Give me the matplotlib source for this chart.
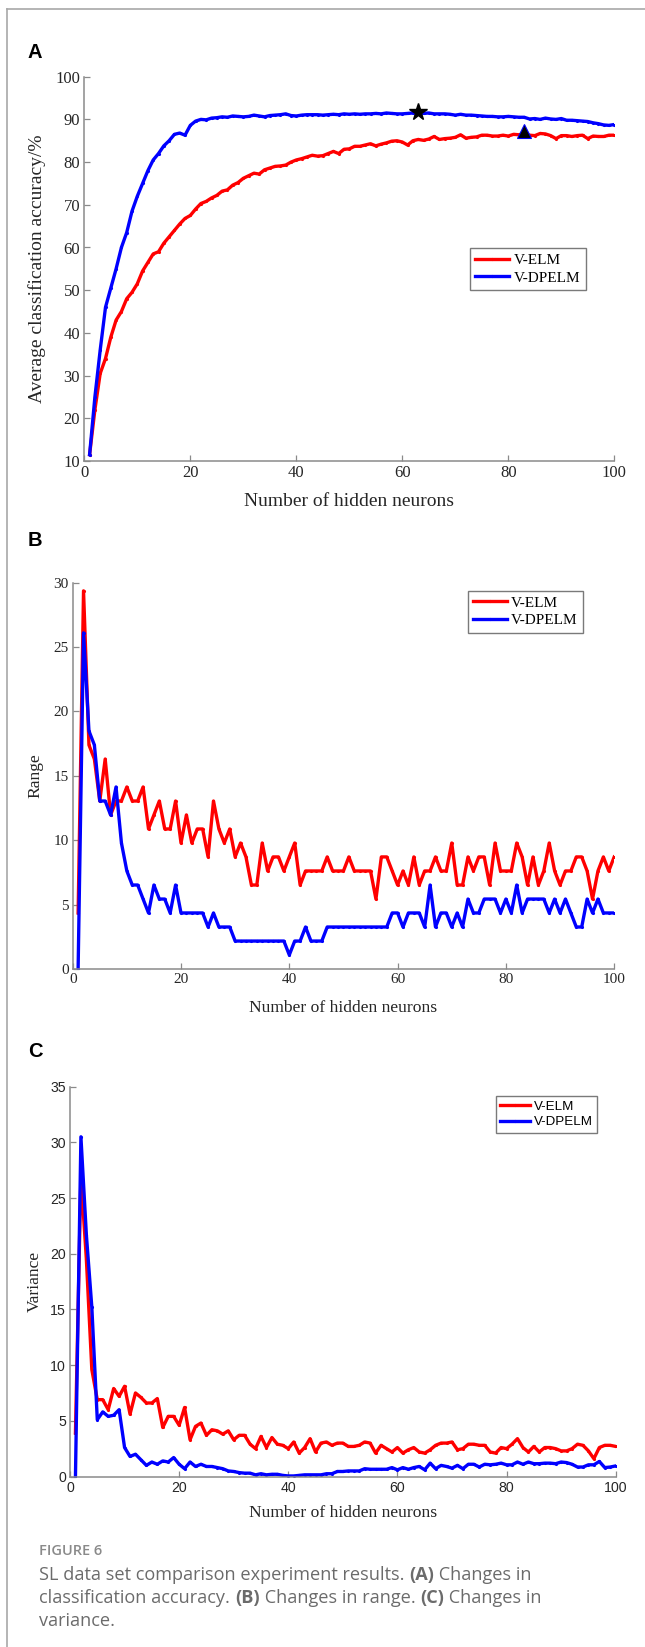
import matplotlib
matplotlib.use("Agg")
import matplotlib.pyplot as plt
from matplotlib.lines import Line2D
import numpy as np

# hidden neurons 1..100
neurons = list(range(1, 101))

acc_elm = [11.5, 22, 30.5, 34, 39, 43, 45, 48, 49.5, 51.5,
           54.5, 56.5, 58.5, 59, 61, 62.5, 64, 65.5, 66.8, 67.5,
           69, 70.3, 70.8, 71.6, 72.2, 73.2, 73.5, 74.6, 75.2, 76.2,
           76.8, 77.4, 77.2, 78.2, 78.6, 79.0, 79.1, 79.3, 80.0, 80.5,
           80.8, 81.2, 81.6, 81.4, 81.5, 82.0, 82.5, 82.0, 83.0, 83.1,
           83.7, 83.7, 84.0, 84.3, 83.8, 84.2, 84.5, 84.9, 85.0, 84.7,
           84.0, 85.0, 85.3, 85.1, 85.4, 86.0, 85.3, 85.5, 85.6, 85.8,
           86.4, 85.6, 85.8, 85.9, 86.3, 86.3, 86.1, 86.1, 86.3, 86.1,
           86.5, 86.4, 86.6, 86.3, 86.2, 86.7, 86.6, 86.2, 85.5, 86.2,
           86.2, 86.0, 86.2, 86.3, 85.5, 86.1, 86.0, 86.0, 86.3, 86.3]

acc_dpelm = [11.5, 25, 36, 46, 50.5, 55, 60, 63.5, 68.5, 72,
             75, 78, 80.5, 82, 83.8, 85, 86.5, 86.8, 86.3, 88.6,
             89.6, 90.0, 89.9, 90.3, 90.4, 90.6, 90.5, 90.8, 90.7, 90.6,
             90.7, 91.0, 90.8, 90.6, 90.9, 91.0, 91.1, 91.3, 90.9, 90.8,
             91.0, 91.1, 91.1, 91.1, 91.0, 91.1, 91.2, 91.1, 91.3, 91.2,
             91.3, 91.2, 91.3, 91.3, 91.4, 91.3, 91.5, 91.4, 91.3, 91.3,
             91.4, 91.5, 91.6, 91.4, 91.5, 91.3, 91.3, 91.3, 91.2, 91.0,
             91.2, 91.0, 91.0, 90.9, 90.8, 90.7, 90.7, 90.6, 90.6, 90.7,
             90.6, 90.5, 90.5, 90.1, 90.2, 90.0, 90.3, 90.1, 90.0, 90.2,
             89.8, 89.8, 89.7, 89.6, 89.5, 89.2, 89.0, 88.7, 88.6, 88.8]

best_dpelm = (63, 91.8)   # star
best_elm = (83, 87.2)     # triangle

range_elm = [4.35, 29.35, 17.39, 16.30, 13.04, 16.30, 11.96, 13.04, 13.04, 14.13,
             13.04, 13.04, 14.13, 10.87, 11.96, 13.04, 10.87, 10.87, 13.04, 9.78,
             11.96, 9.78, 10.87, 10.87, 8.70, 13.04, 10.87, 9.78, 10.87, 8.70,
             9.78, 8.70, 6.52, 6.52, 9.78, 7.61, 8.70, 8.70, 7.61, 8.70,
             9.78, 6.52, 7.61, 7.61, 7.61, 7.61, 8.70, 7.61, 7.61, 7.61,
             8.70, 7.61, 7.61, 7.61, 7.61, 5.43, 8.70, 8.70, 7.61, 6.52,
             7.61, 6.52, 8.70, 6.52, 7.61, 7.61, 8.70, 7.61, 7.61, 9.78,
             6.52, 6.52, 8.70, 7.61, 8.70, 8.70, 6.52, 9.78, 7.61, 7.61,
             7.61, 9.78, 8.70, 6.52, 8.70, 6.52, 7.61, 9.78, 7.61, 6.52,
             7.61, 7.61, 8.70, 8.70, 7.61, 5.43, 7.61, 8.70, 7.61, 8.70]

range_dpelm = [0, 26.09, 18.48, 17.39, 13.04, 13.04, 11.96, 14.13, 9.78, 7.61,
               6.52, 6.52, 5.43, 4.35, 6.52, 5.43, 5.43, 4.35, 6.52, 4.35,
               4.35, 4.35, 4.35, 4.35, 3.26, 4.35, 3.26, 3.26, 3.26, 2.17,
               2.17, 2.17, 2.17, 2.17, 2.17, 2.17, 2.17, 2.17, 2.17, 1.09,
               2.17, 2.17, 3.26, 2.17, 2.17, 2.17, 3.26, 3.26, 3.26, 3.26,
               3.26, 3.26, 3.26, 3.26, 3.26, 3.26, 3.26, 3.26, 4.35, 4.35,
               3.26, 4.35, 4.35, 4.35, 3.26, 6.52, 3.26, 4.35, 4.35, 3.26,
               4.35, 3.26, 5.43, 4.35, 4.35, 5.43, 5.43, 5.43, 4.35, 5.43,
               4.35, 6.52, 4.35, 5.43, 5.43, 5.43, 5.43, 4.35, 5.43, 4.35,
               5.43, 4.35, 3.26, 3.26, 5.43, 4.35, 5.43, 4.35, 4.35, 4.35]

var_elm = [3.9, 27.0, 19.5, 9.6, 6.9, 6.9, 6.0, 7.9, 7.2, 8.1,
           5.6, 7.5, 7.1, 6.6, 6.6, 7.0, 4.4, 5.4, 5.4, 4.6,
           6.2, 3.3, 4.5, 4.8, 3.7, 4.2, 4.1, 3.8, 4.1, 3.3,
           3.7, 3.7, 2.9, 2.5, 3.6, 2.6, 3.5, 2.9, 2.8, 2.5,
           3.1, 2.1, 2.6, 3.4, 2.2, 3.0, 3.1, 2.8, 3.0, 3.0,
           2.7, 2.7, 2.8, 3.1, 3.0, 2.1, 2.8, 2.5, 2.2, 2.6,
           2.1, 2.4, 2.6, 2.2, 2.1, 2.4, 2.8, 3.0, 3.0, 3.1,
           2.4, 2.5, 2.9, 2.9, 2.8, 2.8, 2.2, 2.1, 2.6, 2.5,
           2.9, 3.4, 2.6, 2.2, 2.7, 2.2, 2.6, 2.6, 2.5, 2.3,
           2.3, 2.5, 2.9, 2.8, 2.3, 1.6, 2.6, 2.8, 2.8, 2.7]

var_dpelm = [0, 30.5, 21.7, 15.2, 5.1, 5.8, 5.4, 5.5, 6.0, 2.6,
             1.8, 2.0, 1.5, 1.0, 1.3, 1.1, 1.4, 1.3, 1.7, 1.1,
             0.7, 1.3, 0.9, 1.1, 0.9, 0.9, 0.8, 0.7, 0.5, 0.45,
             0.35, 0.3, 0.3, 0.15, 0.25, 0.15, 0.2, 0.2, 0.1, 0.05,
             0.05, 0.1, 0.15, 0.15, 0.15, 0.15, 0.25, 0.25, 0.45, 0.45,
             0.5, 0.5, 0.5, 0.7, 0.65, 0.65, 0.65, 0.65, 0.8, 0.6,
             0.8, 0.65, 0.8, 0.9, 0.6, 1.2, 0.7, 1.0, 0.9, 0.75,
             1.0, 0.7, 1.1, 1.1, 0.85, 1.1, 1.05, 1.1, 1.2, 1.05,
             1.05, 1.3, 1.1, 1.3, 1.15, 1.15, 1.2, 1.2, 1.15, 1.3,
             1.25, 1.1, 0.85, 0.85, 1.05, 1.05, 1.35, 0.8, 0.85, 0.95]

W, H = 645, 1647
SERIF = ["Liberation Serif", "DejaVu Serif"]
SANS = ["Liberation Sans", "DejaVu Sans"]
plt.rcParams["font.family"] = SERIF
fig = plt.figure(figsize=(W / 100, H / 100), dpi=100)

axis_gray = "#8a8a8a"
tick_col = "#262626"


def fig_rect(x0, y0, x1, y1):
    # pixel box (top-left origin) -> figure fraction rect
    return [x0 / W, 1 - y1 / H, (x1 - x0) / W, (y1 - y0) / H]


def style_axes(ax, tsize):
    for s in ["top", "right"]:
        ax.spines[s].set_visible(False)
    for s in ["left", "bottom"]:
        ax.spines[s].set_color(axis_gray)
        ax.spines[s].set_linewidth(1.1)
    ax.tick_params(direction="in", length=4.5, width=0.9, color=axis_gray,
                   labelcolor=tick_col, labelsize=tsize, pad=3)


def draw_lines(ax, y1, y2):
    ax.plot(neurons, y1, color="#ff0000", lw=2.4, marker=".", ms=2.5, label="V-ELM")
    ax.plot(neurons, y2, color="#0000ff", lw=2.4, marker=".", ms=2.5, label="V-DPELM")


def add_legend(ax, fam, size, x0, y0):
    leg = ax.legend(loc="upper left", bbox_to_anchor=(x0 / W, 1 - y0 / H),
                    bbox_transform=fig.transFigure, borderaxespad=0,
                    prop={"family": fam, "size": size}, fancybox=False,
                    framealpha=1, edgecolor="#7a7a7a", handlelength=2.2,
                    handletextpad=0.3, borderpad=0.35, labelspacing=0.25)
    leg.get_frame().set_linewidth(1.0)


# ---- panel A
axA = fig.add_axes(fig_rect(84.3, 76.7, 614.3, 461))
draw_lines(axA, acc_elm, acc_dpelm)
axA.plot(*best_dpelm, marker="*", ms=13, color="black", zorder=5)
axA.plot(*best_elm, marker="^", ms=10, mfc="black", mec="#0000ff", mew=0.8, zorder=5)
axA.set_xlim(0, 100)
axA.set_ylim(10, 100)
axA.set_xticks(np.arange(0, 101, 20))
axA.set_yticks(np.arange(10, 101, 10))
style_axes(axA, 12)
axA.set_xlabel("Number of hidden neurons", fontsize=14, color=tick_col, va="center")
axA.xaxis.set_label_coords(0.5, -0.106)
axA.set_ylabel("Average classification accuracy/%", fontsize=14, color=tick_col, va="center")
axA.yaxis.set_label_coords(-0.089, 0.5)
add_legend(axA, SERIF, 11, 470, 248)

# ---- panel B
axB = fig.add_axes(fig_rect(72.7, 582.5, 614.2, 969))
draw_lines(axB, range_elm, range_dpelm)
axB.set_xlim(0, 100)
axB.set_ylim(0, 30)
axB.set_xticks(np.arange(0, 101, 20))
axB.set_yticks(np.arange(0, 31, 5))
style_axes(axB, 11)
axB.set_xlabel("Number of hidden neurons", fontsize=12.6, color=tick_col, va="center")
axB.xaxis.set_label_coords(0.5, -0.101)
axB.set_ylabel("Range", fontsize=12.6, color=tick_col, va="center")
axB.yaxis.set_label_coords(-0.0696, 0.5)
add_legend(axB, SERIF, 11, 467.7, 590.7)

# ---- panel C
axC = fig.add_axes(fig_rect(70, 1086.7, 615.7, 1476.5))
draw_lines(axC, var_elm, var_dpelm)
axC.set_xlim(0, 100)
axC.set_ylim(0, 35)
axC.set_xticks(np.arange(0, 101, 20))
axC.set_yticks(np.arange(0, 36, 5))
style_axes(axC, 10.2)
axC.set_xlabel("Number of hidden neurons", fontsize=12.6, color=tick_col, va="center")
axC.xaxis.set_label_coords(0.5, -0.0936)
axC.set_ylabel("Variance", fontsize=12.6, color=tick_col, va="center")
axC.yaxis.set_label_coords(-0.064, 0.5)
add_legend(axC, SANS, 9.6, 495.7, 1095.7)

# panel letters
for letter, ypix in [("A", 52), ("B", 541), ("C", 1051.7)]:
    fig.text(35 / W, 1 - ypix / H, letter, family=SANS, fontsize=14.5, weight="bold",
             ha="center", va="center", color="black")

# outer frame (left and top edge only are visible)
fx, fy = 6.7 / W, 1 - 9 / H
fig.add_artist(Line2D([fx, fx], [0, fy], transform=fig.transFigure, color="#a8a8a8", lw=1.2))
fig.add_artist(Line2D([fx, 1], [fy, fy], transform=fig.transFigure, color="#a8a8a8", lw=1.2))

# caption
CAP = ["Open Sans", "DejaVu Sans"]
cap_col = "#6b6b6b"
fig.text(39.3 / W, 1 - 1551 / H, "FIGURE 6", family=CAP, fontsize=10.5, weight="semibold",
         color="#8a8a8a", va="center")

caption_lines = [
    [("SL data set comparison experiment results. ", "normal"), ("(A)", "bold"), (" Changes in", "normal")],
    [("classification accuracy. ", "normal"), ("(B)", "bold"), (" Changes in range. ", "normal"),
     ("(C)", "bold"), (" Changes in", "normal")],
    [("variance.", "normal")],
]
fig.canvas.draw()
renderer = fig.canvas.get_renderer()
for i, segs in enumerate(caption_lines):
    xpix = 39.3
    ypix = 1575 + i * 23.2
    for txt, wt in segs:
        t = fig.text(xpix / W, 1 - ypix / H, txt, family=CAP, fontsize=13.1, weight=wt,
                     color=cap_col, va="center")
        xpix += t.get_window_extent(renderer).width

# serif numbers on A and B, sans-serif numbers on C
for ax, fam in [(axA, SERIF), (axB, SERIF), (axC, SANS)]:
    for lab in ax.get_xticklabels() + ax.get_yticklabels():
        lab.set_family(fam)

fig.savefig("out.png", dpi=100)
